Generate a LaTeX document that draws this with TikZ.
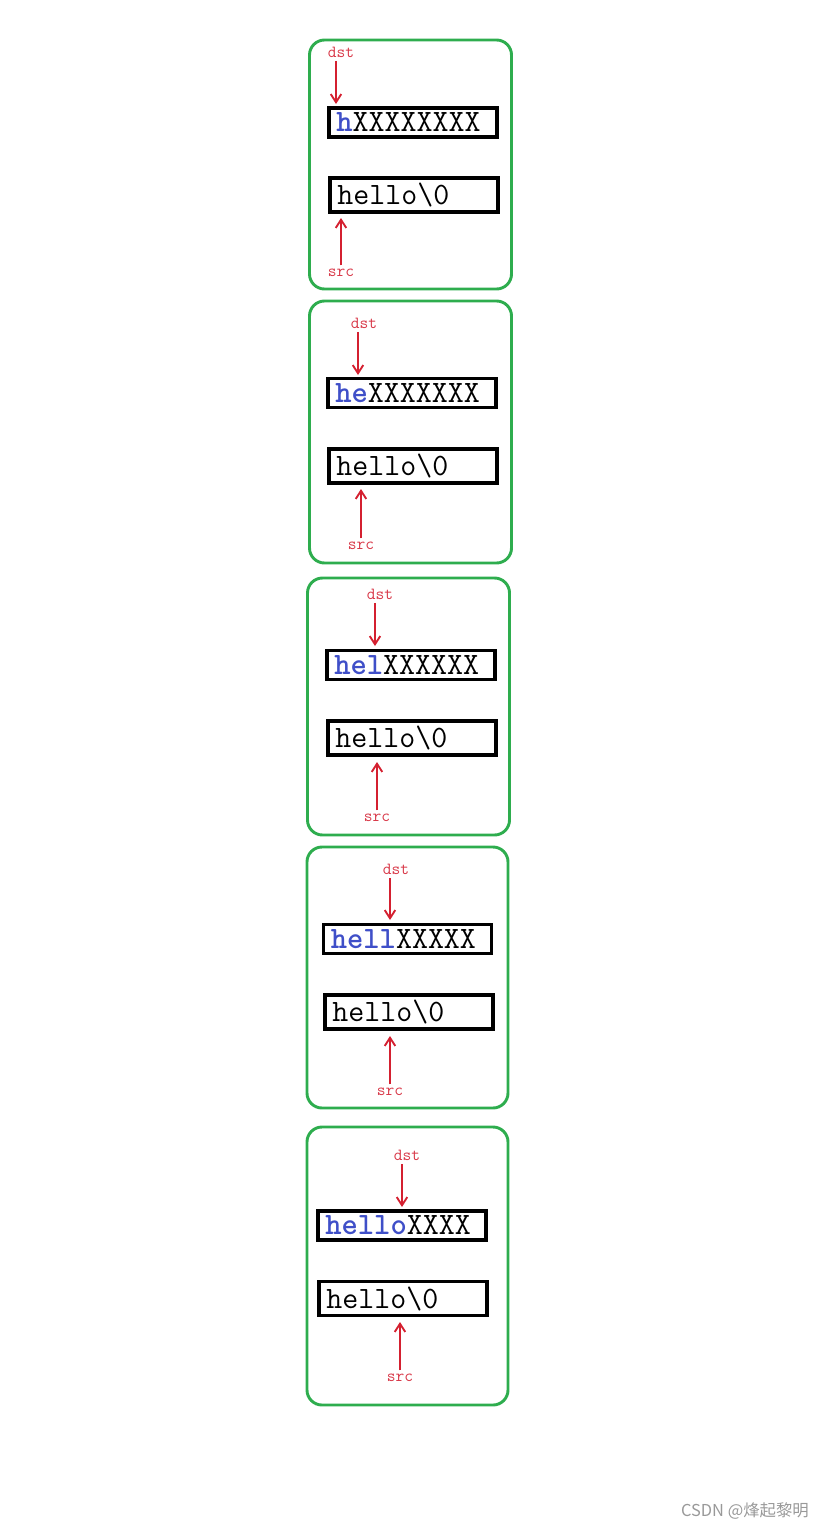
\documentclass[tikz,border=0pt]{standalone}
\usepackage{fontspec}
\newfontfamily\cjk{Noto Sans CJK SC}
\usetikzlibrary{arrows.meta}
\definecolor{framegreen}{HTML}{2EAD4E}
\definecolor{ptrred}{HTML}{D42030}
\definecolor{lblred}{HTML}{D83848}
\definecolor{copyblue}{HTML}{3F4FC8}
\newcommand{\cp}[1]{\textcolor{copyblue}{\textbf{#1}}}
\begin{document}
\begin{tikzpicture}[x=0.03cm,y=-0.03cm,
    panel/.style={draw=framegreen, line width=2.5pt, rounded corners=0.45cm, minimum width=6.06cm},
    buf/.style={draw, line width=2.8pt, minimum width=5.04cm, text width=4.6cm, align=left,
        inner xsep=0.22cm, inner ysep=0pt, font=\ttfamily\fontsize{26.5}{28}\selectfont},
    lbl/.style={text=lblred, inner sep=1pt, font=\ttfamily\fontsize{14.5}{16}\selectfont},
    ptr/.style={draw=ptrred, line width=1.6pt, shorten <=2pt, -{Straight Barb[length=7pt,width=9pt]}}]
\useasboundingbox (0,0) rectangle (827,1530);

% step 1
\node[panel, minimum height=7.47cm] (p1) at (410.5,164.5) {};
\node[buf, minimum height=0.87cm] (dst1) at (413,122.5) {\cp{h}XXXXXXXX};
\node[buf, minimum height=1.02cm] (src1) at (414,195) {hello\textbackslash0};
\node[lbl] (d1) at (341,52) {dst};
\node[lbl] (s1) at (341,273) {src};
\coordinate (t1) at (336,104);
\coordinate (u1) at (341,218);
\draw[ptr] (d1.south -| t1) -- (t1);
\draw[ptr] (s1.north -| u1) -- (u1);

% step 2
\node[panel, minimum height=7.86cm] (p2) at (410.5,432) {};
\node[buf, minimum height=0.87cm] (dst2) at (412,393) {\cp{he}XXXXXXX};
\node[buf, minimum height=1.02cm] (src2) at (413,466) {hello\textbackslash0};
\node[lbl] (d2) at (364,323) {dst};
\node[lbl] (s2) at (361,546) {src};
\coordinate (t2) at (358,375);
\coordinate (u2) at (361,489);
\draw[ptr] (d2.south -| t2) -- (t2);
\draw[ptr] (s2.north -| u2) -- (u2);

% step 3
\node[panel, minimum height=7.71cm] (p3) at (408.5,706.5) {};
\node[buf, minimum height=0.87cm] (dst3) at (411,665) {\cp{hel}XXXXXX};
\node[buf, minimum height=1.02cm] (src3) at (412,738) {hello\textbackslash0};
\node[lbl] (d3) at (380,594) {dst};
\node[lbl] (s3) at (377,818) {src};
\coordinate (t3) at (375,646);
\coordinate (u3) at (377,762);
\draw[ptr] (d3.south -| t3) -- (t3);
\draw[ptr] (s3.north -| u3) -- (u3);

% step 4
\node[panel, minimum height=7.83cm, minimum width=6.03cm] (p4) at (407.5,977.5) {};
\node[buf, minimum height=0.87cm] (dst4) at (407.5,939) {\cp{hell}XXXXX};
\node[buf, minimum height=1.02cm] (src4) at (409,1012) {hello\textbackslash0};
\node[lbl] (d4) at (396,869) {dst};
\node[lbl] (s4) at (390,1092) {src};
\coordinate (t4) at (390,920);
\coordinate (u4) at (390,1036);
\draw[ptr] (d4.south -| t4) -- (t4);
\draw[ptr] (s4.north -| u4) -- (u4);

% step 5
\node[panel, minimum height=8.34cm, minimum width=6.03cm] (p5) at (407.5,1266) {};
\node[buf, minimum height=0.87cm] (dst5) at (402,1225.5) {\cp{hello}XXXX};
\node[buf, minimum height=1.02cm] (src5) at (403,1298.5) {hello\textbackslash0};
\node[lbl] (d5) at (407,1155) {dst};
\node[lbl] (s5) at (400,1378) {src};
\coordinate (t5) at (402,1207);
\coordinate (u5) at (400,1322);
\draw[ptr] (d5.south -| t5) -- (t5);
\draw[ptr] (s5.north -| u5) -- (u5);

\node[text=black!40, inner sep=0pt, font=\cjk\fontsize{14}{16}\selectfont] (mark) at (745,1511) {CSDN @烽起黎明};
\end{tikzpicture}
\end{document}
